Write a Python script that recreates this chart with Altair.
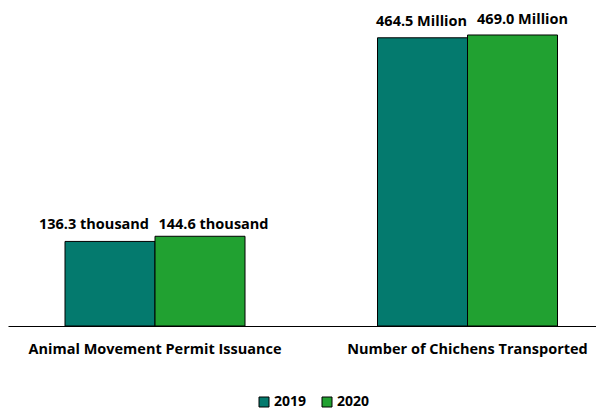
import altair as alt
import pandas as pd

categories = ["Animal Movement Permit Issuance", "Number of Chichens Transported"]
years = ["2019", "2020"]
values_2019 = [136.3, 464.5]
values_2020 = [144.6, 469.0]
labels_2019 = ["136.3 thousand", "464.5 Million"]
labels_2020 = ["144.6 thousand", "469.0 Million"]

rows = []
for i, c in enumerate(categories):
    rows.append({"category": c, "year": "2019", "value": values_2019[i], "label": labels_2019[i]})
    rows.append({"category": c, "year": "2020", "value": values_2020[i], "label": labels_2020[i]})
df = pd.DataFrame(rows)

FONT = "Open Sans"
FS = 14.5
colors = ["#047A6E", "#21A131"]

x = alt.X(
    "category:N", sort=categories, title=None,
    scale=alt.Scale(paddingInner=0.424, paddingOuter=0.1528, align=0.597),
    axis=alt.Axis(labelAngle=0, labelFont=FONT, labelFontSize=FS, labelFontWeight="bold",
                  labelColor="black", ticks=False, domainColor="black", domainWidth=1,
                  labelPadding=16, labelLimit=400),
)
xoff = alt.XOffset("year:N", sort=years, scale=alt.Scale(paddingInner=0, paddingOuter=0))
y = alt.Y("value:Q", scale=alt.Scale(domain=[0, 512.5], nice=False), axis=None)
color = alt.Color(
    "year:N", sort=years, scale=alt.Scale(domain=years, range=colors),
    legend=alt.Legend(title=None, orient="none", legendX=249, legendY=387, direction="horizontal",
                      symbolType="square", symbolSize=100, symbolStrokeColor="black",
                      symbolStrokeWidth=1, symbolOpacity=1, labelFont=FONT, labelFontSize=14,
                      labelFontWeight="bold", labelColor="black", columnPadding=13, labelOffset=3),
)

base = alt.Chart(df)
bars = base.mark_bar(stroke="black", strokeWidth=1, opacity=1).encode(
    x=x, xOffset=xoff, y=y, color=color
)

# label nudges (dx, dy) per category index / year, to mimic the reference's label placement
nudges = {
    (0, "2019"): (-16, -12.5),
    (0, "2020"): (13.5, -7.7),
    (1, "2019"): (-1, -12),
    (1, "2020"): (10, -11.3),
}
layers = [bars]
for (ci, yr), (dx, dy) in nudges.items():
    t = base.transform_filter(
        (alt.datum.category == categories[ci]) & (alt.datum.year == yr)
    ).mark_text(font=FONT, fontSize=FS, fontWeight="bold", color="black",
                baseline="alphabetic", align="center", dx=dx, dy=dy).encode(
        x=x, xOffset=xoff, y=y, text="label:N"
    )
    layers.append(t)

chart = alt.layer(*layers).properties(
    width=588, height=318,
    padding={"left": 0, "top": 0, "right": 0, "bottom": 0},
).configure_view(stroke=None)

chart.save("out.html", embed_options={"renderer": "svg", "actions": False})
